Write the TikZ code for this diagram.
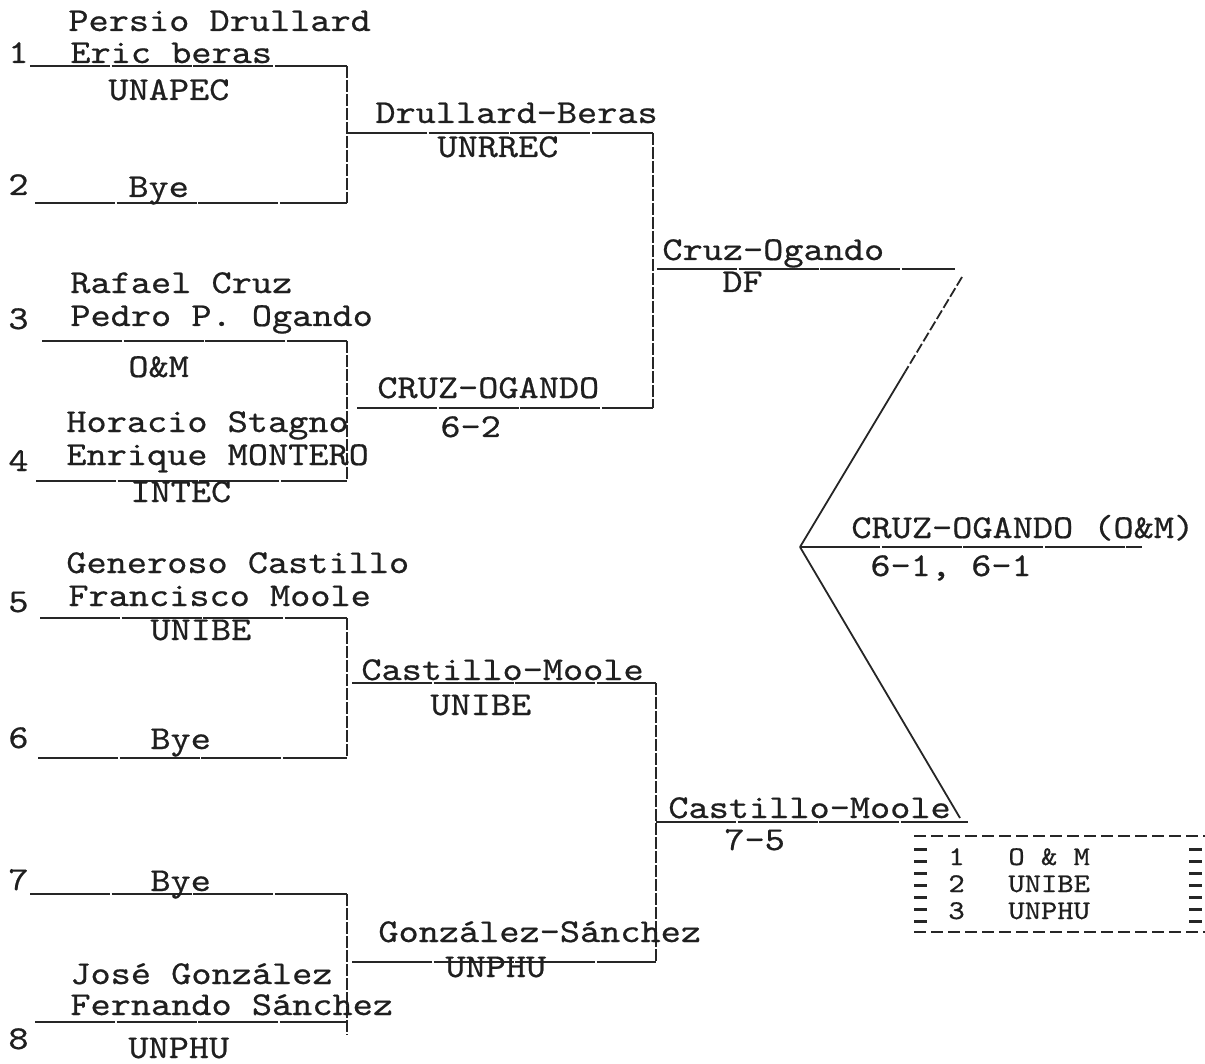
\documentclass[tikz,border=0pt]{standalone}
\usepackage{fontspec}
\newfontfamily\tw[FakeStretch=1.15,FakeBold=0.6]{lmmono10-regular.otf}
\usetikzlibrary{calc}
\begin{document}
\begin{tikzpicture}[x=0.5pt,y=-0.5pt,
  txt/.style={anchor=base west,inner sep=0pt,font=\tw\fontsize{16.7}{20}\selectfont,text=black!88},
  rule/.style={line width=1pt,black!85,dash pattern=on 40pt off 0.8pt},
  vrule/.style={line width=0.9pt,black!85,dash pattern=on 6pt off 1pt},
  diag/.style={line width=0.9pt,black!85}]
\useasboundingbox (0,0) rectangle (1205,1064);

% ---------- coordinates ----------
\coordinate (l1a) at (30,66);   \coordinate (l1b) at (347,66);
\coordinate (l2a) at (35,203);  \coordinate (l2b) at (347,203);
\coordinate (m12a) at (347,133); \coordinate (m12b) at (653,133);
\coordinate (l3a) at (42,341);  \coordinate (l3b) at (347,341);
\coordinate (l4a) at (36,481);  \coordinate (l4b) at (347,481);
\coordinate (m34a) at (357,408); \coordinate (m34b) at (653,408);
\coordinate (sfa) at (657,269); \coordinate (sfb) at (955,269);
\coordinate (fin) at (800,547); \coordinate (finb) at (1142,547);
\coordinate (dtop) at (962,277);
\coordinate (l5a) at (40,618);  \coordinate (l5b) at (347,618);
\coordinate (l6a) at (38,758);  \coordinate (l6b) at (347,758);
\coordinate (m56a) at (352,683); \coordinate (m56b) at (656,683);
\coordinate (l7a) at (30,894);  \coordinate (l7b) at (347,894);
\coordinate (l8a) at (35,1022); \coordinate (l8b) at (347,1022);
\coordinate (v8end) at (347,1035);
\coordinate (m78a) at (352,962); \coordinate (m78b) at (656,962);
\coordinate (sf2a) at (656,822); \coordinate (sf2b) at (968,822);
\coordinate (dbot) at (960,818);

% ---------- round 1 lines ----------
\draw[rule] (l1a) -- (l1b);
\draw[rule] (l2a) -- (l2b);
\draw[vrule] (l1b) -- (l2b);
\draw[rule] (m12a) -- (m12b);
\draw[rule] (l3a) -- (l3b);
\draw[rule] (l4a) -- (l4b);
\draw[vrule] (l3b) -- (l4b);
\draw[rule] (m34a) -- (m34b);
\draw[rule] (l5a) -- (l5b);
\draw[rule] (l6a) -- (l6b);
\draw[vrule] (l5b) -- (l6b);
\draw[rule] (m56a) -- (m56b);
\draw[rule] (l7a) -- (l7b);
\draw[rule] (l8a) -- (l8b);
\draw[vrule] (l7b) -- (v8end);
\draw[rule] (m78a) -- (m78b);
% ---------- round 2 ----------
\draw[vrule] (m12b) -- (m34b);
\draw[rule] (sfa) -- (sfb);
\draw[vrule] (m56b) -- (m78b);
\draw[rule] (sf2a) -- (sf2b);
% ---------- final ----------
\coordinate (dmid) at ($(dtop)!0.35!(fin)$);
\draw[diag,dash pattern=on 5pt off 1.5pt] (dtop) -- (dmid);
\draw[diag] (dmid) -- (fin);
\draw[diag] (fin) -- (dbot);
\draw[rule] (fin) -- (finb);

% ---------- labels ----------
\node[txt] (n1) at (8,63) {1};
\node[txt] (p1a) at (68,31) {Persio Drullard};
\node[txt] (p1b) at (70,63) {Eric beras};
\node[txt] (u1) at (108,100) {UNAPEC};
\node[txt] (n2) at (8,195) {2};
\node[txt] (b2) at (128,197) {Bye};
\node[txt] (w12) at (375,123) {Drullard-Beras};
\node[txt] (w12u) at (437,157) {UNRREC};

\node[txt] (p3a) at (70,293) {Rafael Cruz};
\node[txt] (n3) at (8,329) {3};
\node[txt] (p3b) at (70,326) {Pedro P. Ogando};
\node[txt] (u3) at (128,377) {O\&M};
\node[txt] (p4a) at (66,432) {Horacio Stagno};
\node[txt] (p4b) at (66,465) {Enrique MONTERO};
\node[txt] (n4) at (8,471) {4};
\node[txt] (u4) at (130,502) {INTEC};
\node[txt] (w34) at (377,398) {CRUZ-OGANDO};
\node[txt] (w34s) at (440,437) {6-2};

\node[txt] (s1) at (662,260) {Cruz-Ogando};
\node[txt] (s1u) at (722,292) {DF};
\node[txt] (f) at (851,538) {CRUZ-OGANDO (O\&M)};
\node[txt] (fs) at (870,576) {6-1, 6-1};

\node[txt] (p5a) at (66,573) {Generoso Castillo};
\node[txt] (p5b) at (68,606) {Francisco Moole};
\node[txt] (n5) at (8,612) {5};
\node[txt] (u5) at (150,640) {UNIBE};
\node[txt] (n6) at (8,748) {6};
\node[txt] (b6) at (150,749) {Bye};
\node[txt] (w56) at (361,680) {Castillo-Moole};
\node[txt] (w56u) at (430,715) {UNIBE};

\node[txt] (s2) at (668,818) {Castillo-Moole};
\node[txt] (s2s) at (724,850) {7-5};

\node[txt] (n7) at (8,890) {7};
\node[txt] (b7) at (150,891) {Bye};
\node[txt] (w78) at (378,942) {González-Sánchez};
\node[txt] (w78u) at (445,977) {UNPHU};
\node[txt] (p8a) at (70,984) {José González};
\node[txt] (p8b) at (70,1015) {Fernando Sánchez};
\node[txt] (n8) at (8,1049) {8};
\node[txt] (u8) at (128,1058) {UNPHU};

% ---------- standings box ----------
\coordinate (bx1) at (914,836); \coordinate (bx2) at (1205,836);
\coordinate (bx3) at (914,932); \coordinate (bx4) at (1205,932);
\coordinate (bl1) at (920,848); \coordinate (bl2) at (920,928);
\coordinate (br1) at (1195,848); \coordinate (br2) at (1195,928);
\draw[line width=1.3pt,black!85,dash pattern=on 6pt off 2.5pt] (bx1) -- (bx2);
\draw[line width=1.3pt,black!85,dash pattern=on 6pt off 2.5pt] (bx3) -- (bx4);
\draw[line width=6.5pt,black!85,dash pattern=on 1.3pt off 4.7pt] (bl1) -- (bl2);
\draw[line width=6.5pt,black!85,dash pattern=on 1.3pt off 4.7pt] (br1) -- (br2);
\begin{scope}[txt/.append style={font=\tw\fontsize{13.5}{15}\selectfont}]
\node[txt] (r1) at (948,865) {1};
\node[txt] (r1t) at (1008,865) {O \& M};
\node[txt] (r2) at (948,892) {2};
\node[txt] (r2t) at (1008,892) {UNIBE};
\node[txt] (r3) at (948,919) {3};
\node[txt] (r3t) at (1008,919) {UNPHU};
\end{scope}
\end{tikzpicture}
\end{document}
